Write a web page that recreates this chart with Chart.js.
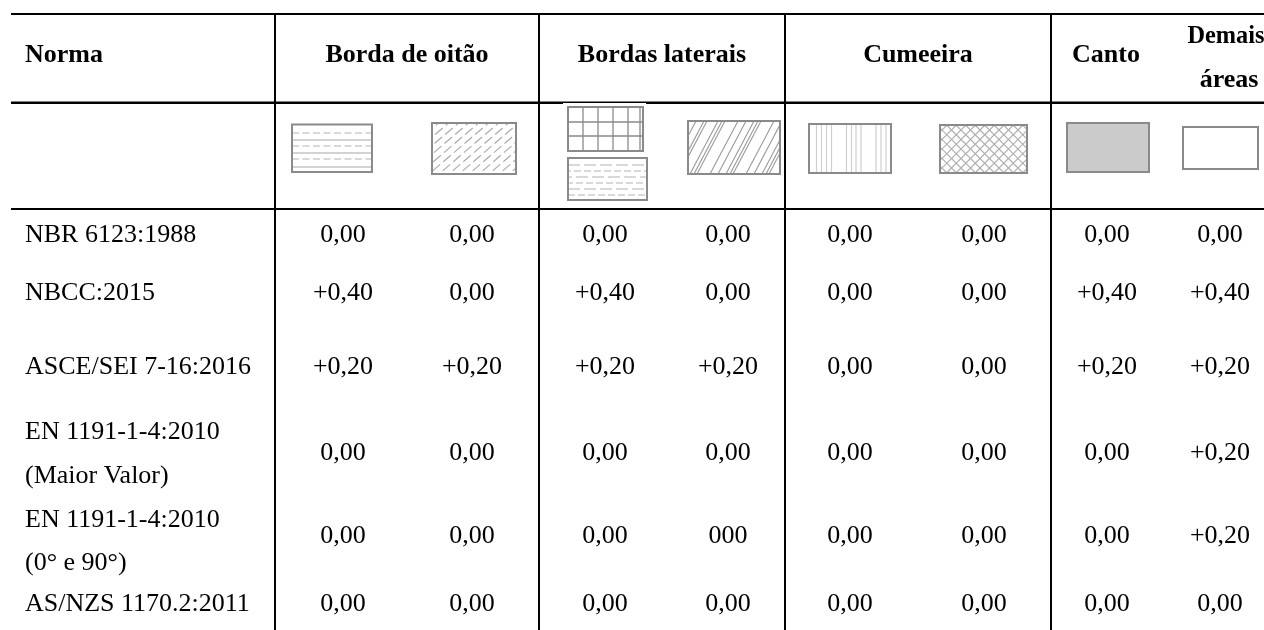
<!DOCTYPE html>
<html><head><meta charset="utf-8">
<script src="https://cdn.jsdelivr.net/npm/chart.js@4/dist/chart.umd.min.js"></script>
<style>html,body{margin:0;padding:0;background:#fff;overflow:hidden}#wrap{width:1264px;height:630px;position:relative}</style>
</head><body><div id="wrap"><canvas id="c" width="1264" height="630"></canvas></div>
<script>
// ---------- data ----------
const normas = [
  ['NBR 6123:1988'],
  ['NBCC:2015'],
  ['ASCE/SEI 7-16:2016'],
  ['EN 1191-1-4:2010', '(Maior Valor)'],
  ['EN 1191-1-4:2010', '(0° e 90°)'],
  ['AS/NZS 1170.2:2011']
];
const cabecalhoNorma = 'Norma';
const grupos = ['Borda de oitão', 'Bordas laterais', 'Cumeeira', 'Canto', ['Demais', 'áreas']];
const bordaOitaoA    = ['0,00', '+0,40', '+0,20', '0,00', '0,00', '0,00'];
const bordaOitaoB    = ['0,00', '0,00',  '+0,20', '0,00', '0,00', '0,00'];
const bordasLatA     = ['0,00', '+0,40', '+0,20', '0,00', '0,00', '0,00'];
const bordasLatB     = ['0,00', '0,00',  '+0,20', '0,00', '000',  '0,00'];
const cumeeiraA      = ['0,00', '0,00',  '0,00',  '0,00', '0,00', '0,00'];
const cumeeiraB      = ['0,00', '0,00',  '0,00',  '0,00', '0,00', '0,00'];
const canto          = ['0,00', '+0,40', '+0,20', '0,00', '0,00', '0,00'];
const demaisAreas    = ['0,00', '+0,40', '+0,20', '+0,20', '+0,20', '0,00'];
const colunas = [bordaOitaoA, bordaOitaoB, bordasLatA, bordasLatB, cumeeiraA, cumeeiraB, canto, demaisAreas];

// ---------- layout (table units on the x/y scales) ----------
const colX = [343, 472, 605, 728, 850, 984, 1107, 1220];
const rowY = [242, 300, 374, 460, 543, 611];
const rowLabelY = [[242], [300], [374], [439, 483], [527, 570], [611]];
const labelX = 25;
const hLines = [14, 102.75, 209];
const vLines = [275, 539, 785, 1051];
const groupX = [407, 662, 918, 1106, [1226, 1229]];
const FONT = '"Liberation Serif", "Times New Roman", serif';

const tablePlugin = {
  id: 'tablePlugin',
  beforeDatasetsDraw(chart) {
    const ctx = chart.ctx, sx = chart.scales.x, sy = chart.scales.y;
    const X = v => sx.getPixelForValue(v), Y = v => sy.getPixelForValue(v);
    ctx.save();
    // grid lines
    ctx.strokeStyle = '#000';
    hLines.forEach((y, i) => {
      ctx.lineWidth = i === 1 ? 2.5 : 2;
      ctx.beginPath(); ctx.moveTo(X(11), Y(y)); ctx.lineTo(X(1264), Y(y)); ctx.stroke();
    });
    ctx.lineWidth = 2;
    vLines.forEach(x => {
      ctx.beginPath(); ctx.moveTo(X(x), Y(13)); ctx.lineTo(X(x), Y(630)); ctx.stroke();
    });
    // header text
    ctx.fillStyle = '#000';
    ctx.font = 'bold 26px ' + FONT;
    ctx.textBaseline = 'alphabetic';
    ctx.textAlign = 'left';
    ctx.fillText(cabecalhoNorma, X(labelX), Y(62));
    ctx.textAlign = 'center';
    grupos.forEach((g, i) => {
      if (Array.isArray(g)) {
        ctx.fillText(g[0], X(groupX[i][0]), Y(43), 77);
        ctx.fillText(g[1], X(groupX[i][1]), Y(87));
      } else {
        ctx.fillText(g, X(groupX[i]), Y(62));
      }
    });
    // row labels
    ctx.font = '26px ' + FONT;
    ctx.textAlign = 'left';
    normas.forEach((lines, r) => {
      lines.forEach((t, k) => ctx.fillText(t, X(labelX), Y(rowLabelY[r][k])));
    });
    // pattern swatches
    drawSwatches(ctx, X, Y);
    ctx.restore();
  },
  afterDatasetsDraw(chart) {
    const ctx = chart.ctx;
    ctx.save();
    ctx.fillStyle = '#000';
    ctx.font = '26px ' + FONT;
    ctx.textAlign = 'center';
    ctx.textBaseline = 'alphabetic';
    chart.data.datasets.forEach((ds, i) => {
      const meta = chart.getDatasetMeta(i);
      meta.data.forEach((el, j) => ctx.fillText(ds.data[j].t, el.x, el.y));
    });
    ctx.restore();
  }
};

function box(ctx, X, Y, x0, y0, x1, y1, fill) {
  if (fill) { ctx.fillStyle = fill; ctx.fillRect(X(x0), Y(y0), X(x1) - X(x0), Y(y1) - Y(y0)); }
  ctx.strokeStyle = '#8a8a8a'; ctx.lineWidth = 2; ctx.setLineDash([]);
  ctx.strokeRect(X(x0), Y(y0), X(x1) - X(x0), Y(y1) - Y(y0));
}
function clip(ctx, X, Y, x0, y0, x1, y1) {
  ctx.save(); ctx.beginPath(); ctx.rect(X(x0), Y(y0), X(x1) - X(x0), Y(y1) - Y(y0)); ctx.clip();
}
function line(ctx, X, Y, a, b, c, d) {
  ctx.beginPath(); ctx.moveTo(X(a), Y(b)); ctx.lineTo(X(c), Y(d)); ctx.stroke();
}
function drawSwatches(ctx, X, Y) {
  // 1 horizontal solid/dashed
  clip(ctx, X, Y, 292, 124.5, 372, 172);
  ctx.lineWidth = 1.2;
  [133, 140, 146, 153, 159, 167].forEach((y, i) => {
    if (i % 2 === 0) { ctx.strokeStyle = '#b4b4b4'; ctx.setLineDash([7, 3.5]); }
    else { ctx.strokeStyle = '#a8a8a8'; ctx.setLineDash([]); }
    line(ctx, X, Y, 292, y, 372, y);
  });
  ctx.restore();
  box(ctx, X, Y, 292, 124.5, 372, 172);

  // 2 dashed diagonals
  clip(ctx, X, Y, 432, 123, 516, 174);
  ctx.strokeStyle = '#ababab'; ctx.lineWidth = 1.2; ctx.setLineDash([10, 4]);
  for (let k = -80; k < 140; k += 10) line(ctx, X, Y, 432 + k, 180, 432 + k + 70, 120);
  ctx.restore();
  box(ctx, X, Y, 432, 123, 516, 174);

  // 3a grid
  ctx.setLineDash([]);
  ctx.strokeStyle = '#8a8a8a'; ctx.lineWidth = 1.3;
  [583, 598, 613, 628, 640].forEach(x => line(ctx, X, Y, x, 107, x, 151));
  [122, 136].forEach(y => line(ctx, X, Y, 568, y, 643, y));
  box(ctx, X, Y, 568, 107, 643, 151);
  // 3b offset dashed horizontals
  clip(ctx, X, Y, 568, 158, 647, 200);
  ctx.strokeStyle = '#b4b4b4'; ctx.lineWidth = 1.2;
  [165, 171, 177, 183, 189, 195].forEach((y, i) => {
    ctx.setLineDash(i % 2 ? [7, 3] : [12, 4]);
    ctx.lineDashOffset = i * 4;
    line(ctx, X, Y, 568, y, 647, y);
  });
  ctx.lineDashOffset = 0; ctx.setLineDash([]);
  ctx.restore();
  box(ctx, X, Y, 568, 158, 647, 200);
  // white patch over header rule
  ctx.fillStyle = '#fff';
  ctx.fillRect(X(563), Y(103), X(646) - X(563), Y(104.5) - Y(103));

  // 4 solid diagonals, varying spacing
  clip(ctx, X, Y, 688, 121, 780, 174);
  ctx.strokeStyle = '#9a9a9a'; ctx.lineWidth = 1.1; ctx.setLineDash([]);
  [-20, -12, -9, 2, 6, 9, 22, 30, 38, 42, 45, 58, 66, 74, 78, 81, 94].forEach(k =>
    line(ctx, X, Y, 688 + k, 174, 688 + k + 28, 121));
  ctx.restore();
  box(ctx, X, Y, 688, 121, 780, 174);

  // 5 vertical lines
  clip(ctx, X, Y, 809, 124, 891, 173);
  ctx.strokeStyle = '#cfcfcf'; ctx.lineWidth = 1.2;
  [816.5, 821.5, 826.5, 831.5, 846.5, 851.5, 856, 861, 876, 881, 886].forEach(x => line(ctx, X, Y, x, 124, x, 173));
  ctx.restore();
  box(ctx, X, Y, 809, 124, 891, 173);

  // 6 cross hatch
  clip(ctx, X, Y, 940, 125, 1027, 173);
  ctx.strokeStyle = '#b0b0b0'; ctx.lineWidth = 1.2;
  for (let k = -60; k < 100; k += 9.5) {
    line(ctx, X, Y, 940 + k, 173, 940 + k + 48, 125);
    line(ctx, X, Y, 940 + k, 125, 940 + k + 48, 173);
  }
  ctx.restore();
  box(ctx, X, Y, 940, 125, 1027, 173);

  // 7 grey fill
  box(ctx, X, Y, 1067, 123, 1149, 172, '#cbcbcb');
  // 8 white
  box(ctx, X, Y, 1183, 127, 1258, 169, '#ffffff');
}

const datasets = colunas.map((col, i) => ({
  label: 'col' + i,
  data: col.map((v, r) => ({ x: colX[i], y: rowY[r], t: v })),
  pointRadius: 0, showLine: false
}));

new Chart(document.getElementById('c'), {
  type: 'scatter',
  data: { datasets },
  options: {
    responsive: false, animation: false, events: [],
    layout: { padding: 0 },
    plugins: { legend: { display: false }, tooltip: { enabled: false } },
    scales: {
      x: { type: 'linear', min: 0, max: 1264, display: false },
      y: { type: 'linear', min: 0, max: 630, reverse: true, display: false }
    }
  },
  plugins: [tablePlugin]
});
</script>
</body></html>
